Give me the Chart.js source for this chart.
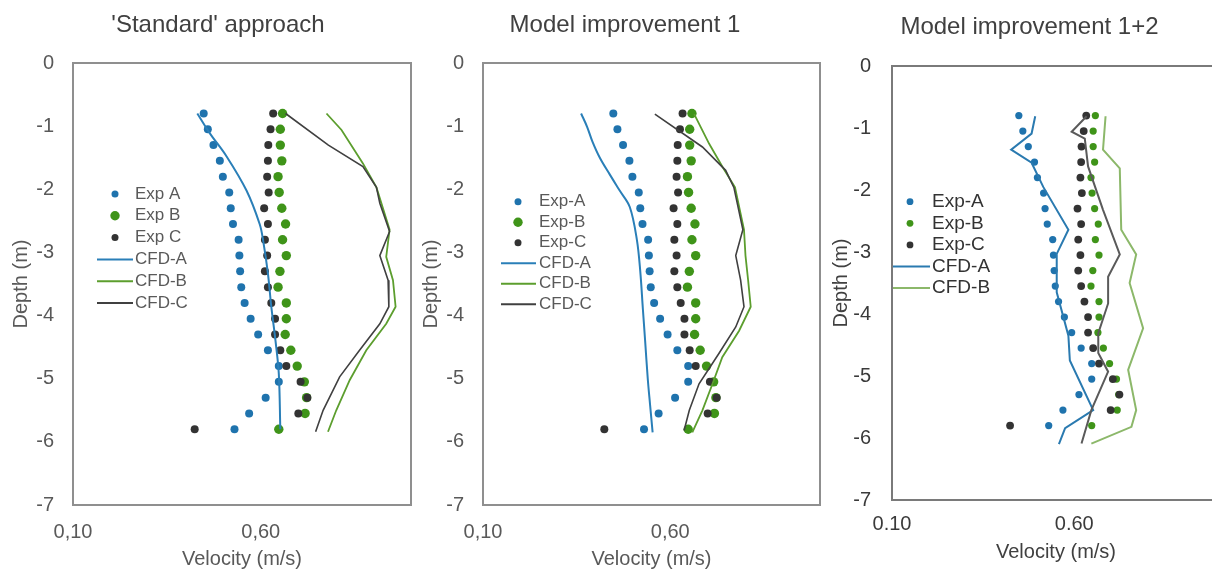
<!DOCTYPE html>
<html>
<head>
<meta charset="utf-8">
<script src="https://cdn.jsdelivr.net/npm/chart.js@4.4.1/dist/chart.umd.min.js"></script>
<style>
  html, body { margin:0; padding:0; background:#fff; width:1212px; height:571px; overflow:hidden; }
  canvas { position:absolute; top:0; }
</style>
</head>
<body>
<canvas id="c1" width="436" height="571" style="left:0px"></canvas>
<canvas id="c2" width="430" height="571" style="left:410px"></canvas>
<canvas id="c3" width="421" height="571" style="left:819px"></canvas>
<script>
// experimental profiles (same measurements in all three panels)
var depthExp = [-0.8,-1.05,-1.3,-1.55,-1.8,-2.05,-2.3,-2.55,-2.8,-3.05,-3.3,-3.55,-3.8,-4.05,-4.3,-4.55,-4.8,-5.05,-5.3,-5.55,-5.8];
var expA = [0.448,0.459,0.474,0.491,0.499,0.516,0.520,0.526,0.541,0.543,0.545,0.548,0.557,0.573,0.593,0.619,0.648,0.648,0.613,0.569,0.530];
var expB = [0.658,0.652,0.652,0.656,0.646,0.649,0.656,0.666,0.658,0.668,0.651,0.646,0.668,0.668,0.665,0.680,0.697,0.716,0.722,0.718,0.648];
var expC = [0.633,0.626,0.620,0.619,0.617,0.621,0.609,0.619,0.611,0.617,0.611,0.619,0.628,0.638,0.638,0.652,0.668,0.706,0.724,0.700,0.424];

// CFD, 'Standard' approach
var cfdA1Depth = [-0.8,-1.11,-1.48,-2.02,-2.55,-2.8,-3.33,-3.86,-4.39,-4.92,-5.8];
var cfdA1 = [0.431,0.464,0.509,0.562,0.597,0.606,0.619,0.628,0.639,0.648,0.652];
var cfdB1Depth = [-0.8,-1.06,-1.59,-1.97,-2.64,-3.07,-3.44,-3.86,-4.13,-4.55,-5.02,-5.5,-5.84];
var cfdB1 = [0.775,0.815,0.872,0.908,0.943,0.934,0.952,0.959,0.934,0.881,0.837,0.801,0.779];
var cfdC1Depth = [-0.8,-1.3,-1.64,-1.97,-2.22,-2.67,-3.05,-3.44,-3.86,-4.13,-4.55,-4.97,-5.5,-5.84];
var cfdC1 = [0.666,0.780,0.872,0.908,0.917,0.943,0.917,0.939,0.941,0.917,0.863,0.810,0.766,0.746];

// CFD, Model improvement 1
var cfdA2Depth = [-0.8,-1.01,-1.24,-1.5,-1.76,-2.02,-2.28,-2.8,-3.3,-3.9,-4.4,-5.0,-5.4,-5.85];
var cfdA2 = [0.362,0.378,0.392,0.412,0.438,0.465,0.492,0.511,0.520,0.527,0.533,0.540,0.546,0.553];
var cfdB2Depth = [-0.81,-1.28,-1.64,-1.97,-2.64,-3.05,-3.44,-3.86,-4.24,-4.66,-5.08,-5.5,-5.85];
var cfdB2 = [0.664,0.704,0.739,0.773,0.797,0.801,0.808,0.815,0.784,0.739,0.713,0.686,0.659];
var cfdC2Depth = [-0.81,-1.33,-1.70,-1.97,-2.64,-3.05,-3.44,-3.86,-4.18,-4.6,-5.08,-5.5,-5.82];
var cfdC2 = [0.559,0.686,0.748,0.770,0.794,0.775,0.788,0.797,0.775,0.730,0.677,0.651,0.637];

// CFD, Model improvement 1+2
var cfdA3Depth = [-0.81,-1.09,-1.35,-1.56,-1.95,-2.64,-3.03,-3.65,-4.35,-4.75,-5.55,-5.84,-6.1];
var cfdA3 = [0.493,0.483,0.427,0.483,0.515,0.584,0.552,0.552,0.584,0.588,0.652,0.575,0.558];
var cfdB3Depth = [-0.81,-1.35,-1.65,-2.64,-3.04,-3.5,-4.23,-4.9,-5.55,-5.82,-6.09];
var cfdB3 = [0.686,0.679,0.725,0.729,0.770,0.752,0.789,0.748,0.770,0.757,0.647];
var cfdC3Depth = [-0.81,-1.06,-1.17,-1.62,-2.32,-3.04,-3.4,-3.83,-4.31,-4.63,-4.93,-5.55,-6.09];
var cfdC3 = [0.634,0.593,0.629,0.638,0.679,0.725,0.693,0.693,0.666,0.666,0.693,0.647,0.620];

// axis ticks
var xTickValues = [0.1, 0.6];
var xTickLabelsComma = ['0,10', '0,60'];
var xTickLabelsDot = ['0.10', '0.60'];
var yTickValues = [0, -1, -2, -3, -4, -5, -6, -7];
var yTickLabels = ['0', '-1', '-2', '-3', '-4', '-5', '-6', '-7'];

var FONT = "'Liberation Sans', Arial, sans-serif";

function toPoints(xs, ys) {
  return xs.map(function(v, i){ return {x: v, y: ys[i]}; });
}

// grey box around the plot area
var framePlugin = {
  id: 'frame',
  beforeDatasetsDraw: function(chart, args, o) {
    var a = chart.chartArea, ctx = chart.ctx;
    ctx.save();
    ctx.strokeStyle = o.color;
    ctx.lineWidth = o.width;
    ctx.strokeRect(a.left, a.top, a.right - a.left, a.bottom - a.top);
    ctx.restore();
  }
};

// legend drawn inside the plot area
var boxLegend = {
  id: 'boxLegend',
  afterDatasetsDraw: function(chart, args, o) {
    var ctx = chart.ctx, a = chart.chartArea, row = 0;
    ctx.save();
    ctx.font = o.font;
    ctx.textBaseline = 'middle';
    ctx.textAlign = 'left';
    chart.data.datasets.forEach(function(d) {
      if (d.noLegend) return;
      var y = a.top + o.top + row * o.rowH;
      if (d.showLine) {
        ctx.strokeStyle = d.borderColor;
        ctx.lineWidth = o.lineW;
        ctx.beginPath();
        ctx.moveTo(a.left + o.lineX0, y);
        ctx.lineTo(a.left + o.lineX1, y);
        ctx.stroke();
      } else {
        ctx.fillStyle = d.backgroundColor;
        ctx.beginPath();
        ctx.arc(a.left + o.markX, y, o.radii[row], 0, Math.PI * 2);
        ctx.fill();
      }
      ctx.fillStyle = o.color;
      ctx.fillText(d.label, a.left + o.textX, y);
      row++;
    });
    ctx.restore();
  }
};

function buildChart(id, p) {
  var datasets = [
    {label: p.names[0], data: toPoints(expA, depthExp), backgroundColor: p.colA, pointBorderWidth: 0, pointRadius: p.rA, order: 6},
    {label: p.names[1], data: toPoints(expB, depthExp), backgroundColor: p.colB, pointBorderWidth: 0, pointRadius: p.rB, order: 5},
    {label: p.names[2], data: toPoints(expC, depthExp), backgroundColor: p.colC, pointBorderWidth: 0, pointRadius: p.rC, order: 4},
    {label: 'CFD-A', data: toPoints(p.cfdA, p.cfdADepth), showLine: true, borderColor: p.lineA, borderWidth: p.lwA, pointRadius: 0, tension: p.tA, order: 3},
    {label: 'CFD-B', data: toPoints(p.cfdB, p.cfdBDepth), showLine: true, borderColor: p.lineB, borderWidth: p.lwB, pointRadius: 0, tension: 0, order: 2},
    {label: 'CFD-C', data: toPoints(p.cfdC, p.cfdCDepth), showLine: true, borderColor: p.lineC, borderWidth: p.lwC, pointRadius: 0, tension: 0, order: 1, noLegend: p.hideC}
  ];

  return new Chart(document.getElementById(id), {
    type: 'scatter',
    data: {datasets: datasets},
    plugins: [framePlugin, boxLegend],
    options: {
      responsive: false,
      animation: false,
      events: [],
      layout: {padding: 0},
      plugins: {
        legend: {display: false},
        tooltip: {enabled: false},
        title: {
          display: true,
          text: p.title,
          color: '#404040',
          font: {family: FONT, size: 24, weight: 'normal'},
          padding: {top: p.titleTop, bottom: p.titleBottom}
        },
        frame: {color: p.frameCol, width: 2},
        boxLegend: p.legend
      },
      scales: {
        x: {
          type: 'linear', min: 0.1, max: 1.0,
          grid: {display: false, drawTicks: false},
          border: {display: false},
          afterBuildTicks: function(s){ s.ticks = xTickValues.map(function(v){ return {value: v}; }); },
          afterFit: function(s){ s.height = p.xH; },
          ticks: {
            padding: p.xPad, color: p.tickCol,
            font: {family: FONT, size: 20},
            callback: function(v){ return p.xLabels[xTickValues.indexOf(v)]; }
          },
          title: {
            display: true, text: 'Velocity (m/s)', color: p.axisCol,
            font: {family: FONT, size: 20},
            padding: {top: 0, bottom: p.xTitlePad}
          }
        },
        y: {
          type: 'linear', min: -7, max: 0,
          grid: {display: false, drawTicks: false},
          border: {display: false},
          afterBuildTicks: function(s){ s.ticks = yTickValues.map(function(v){ return {value: v}; }); },
          afterFit: function(s){ s.width = 73; },
          ticks: {
            padding: p.yPad, color: p.tickCol,
            font: {family: FONT, size: 20},
            callback: function(v){ return yTickLabels[yTickValues.indexOf(v)]; }
          },
          title: {
            display: true, text: 'Depth (m)', color: p.axisCol,
            font: {family: FONT, size: 20},
            padding: {top: p.yTitlePad, bottom: 0}
          }
        },
        side: {
          type: 'linear', position: 'right', display: true,
          grid: {display: false, drawTicks: false},
          border: {display: false},
          ticks: {display: false},
          afterFit: function(s){ s.width = p.sideW; }
        }
      }
    }
  });
}

buildChart('c1', {
  title: "'Standard' approach",
  names: ['Exp A', 'Exp B', 'Exp C'],
  cfdA: cfdA1, cfdADepth: cfdA1Depth, cfdB: cfdB1, cfdBDepth: cfdB1Depth, cfdC: cfdC1, cfdCDepth: cfdC1Depth,
  colA: '#1f73ad', colB: '#3f9419', colC: '#333333',
  lineA: '#2a7fb8', lineB: '#5c9e2e', lineC: '#404040',
  lwA: 2, lwB: 1.8, lwC: 1.6, tA: 0.35,
  rA: 4, rB: 4.7, rC: 4, hideC: false,
  titleTop: 11, titleBottom: 23.2, xH: 66, xPad: 15, xTitlePad: 0, yPad: 19, yTitlePad: 9, sideW: 25,
  tickCol: '#595959', axisCol: '#595959', frameCol: '#8f8f8f', xLabels: xTickLabelsComma,
  legend: {font: '17px ' + FONT, color: '#595959', top: 131, rowH: 21.8, markX: 42, lineX0: 24, lineX1: 60, textX: 62, lineW: 2, radii: [3.5, 4.7, 3.5]}
});

buildChart('c2', {
  title: 'Model improvement 1',
  names: ['Exp-A', 'Exp-B', 'Exp-C'],
  cfdA: cfdA2, cfdADepth: cfdA2Depth, cfdB: cfdB2, cfdBDepth: cfdB2Depth, cfdC: cfdC2, cfdCDepth: cfdC2Depth,
  colA: '#1f73ad', colB: '#3f9419', colC: '#333333',
  lineA: '#2a7fb8', lineB: '#5c9e2e', lineC: '#404040',
  lwA: 2, lwB: 1.8, lwC: 1.6, tA: 0.35,
  rA: 4, rB: 4.7, rC: 4, hideC: false,
  titleTop: 11, titleBottom: 23.2, xH: 66, xPad: 15, xTitlePad: 0, yPad: 19, yTitlePad: 9, sideW: 20,
  tickCol: '#595959', axisCol: '#595959', frameCol: '#8f8f8f', xLabels: xTickLabelsComma,
  legend: {font: '17px ' + FONT, color: '#595959', top: 138.7, rowH: 20.5, markX: 35, lineX0: 18, lineX1: 53, textX: 56, lineW: 2, radii: [3.5, 4.7, 3.5]}
});

buildChart('c3', {
  title: 'Model improvement 1+2',
  names: ['Exp-A', 'Exp-B', 'Exp-C'],
  cfdA: cfdA3, cfdADepth: cfdA3Depth, cfdB: cfdB3, cfdBDepth: cfdB3Depth, cfdC: cfdC3, cfdCDepth: cfdC3Depth,
  colA: '#1f73ad', colB: '#3f9419', colC: '#333333',
  lineA: '#2a7ab0', lineB: '#8cb86a', lineC: '#5a5a5a',
  lwA: 2, lwB: 2, lwC: 2, tA: 0,
  rA: 3.6, rB: 3.6, rC: 3.9, hideC: true,
  titleTop: 12.5, titleBottom: 24.7, xH: 71, xPad: 12, xTitlePad: 6.5, yPad: 21, yTitlePad: 10, sideW: 20,
  tickCol: '#3a3a3a', axisCol: '#404040', frameCol: '#7a7a7a', xLabels: xTickLabelsDot,
  legend: {font: '19px ' + FONT, color: '#333333', top: 135.7, rowH: 21.6, markX: 18, lineX0: 1, lineX1: 38, textX: 40, lineW: 2, radii: [3.4, 3.4, 3.4]}
});
</script>
</body>
</html>
